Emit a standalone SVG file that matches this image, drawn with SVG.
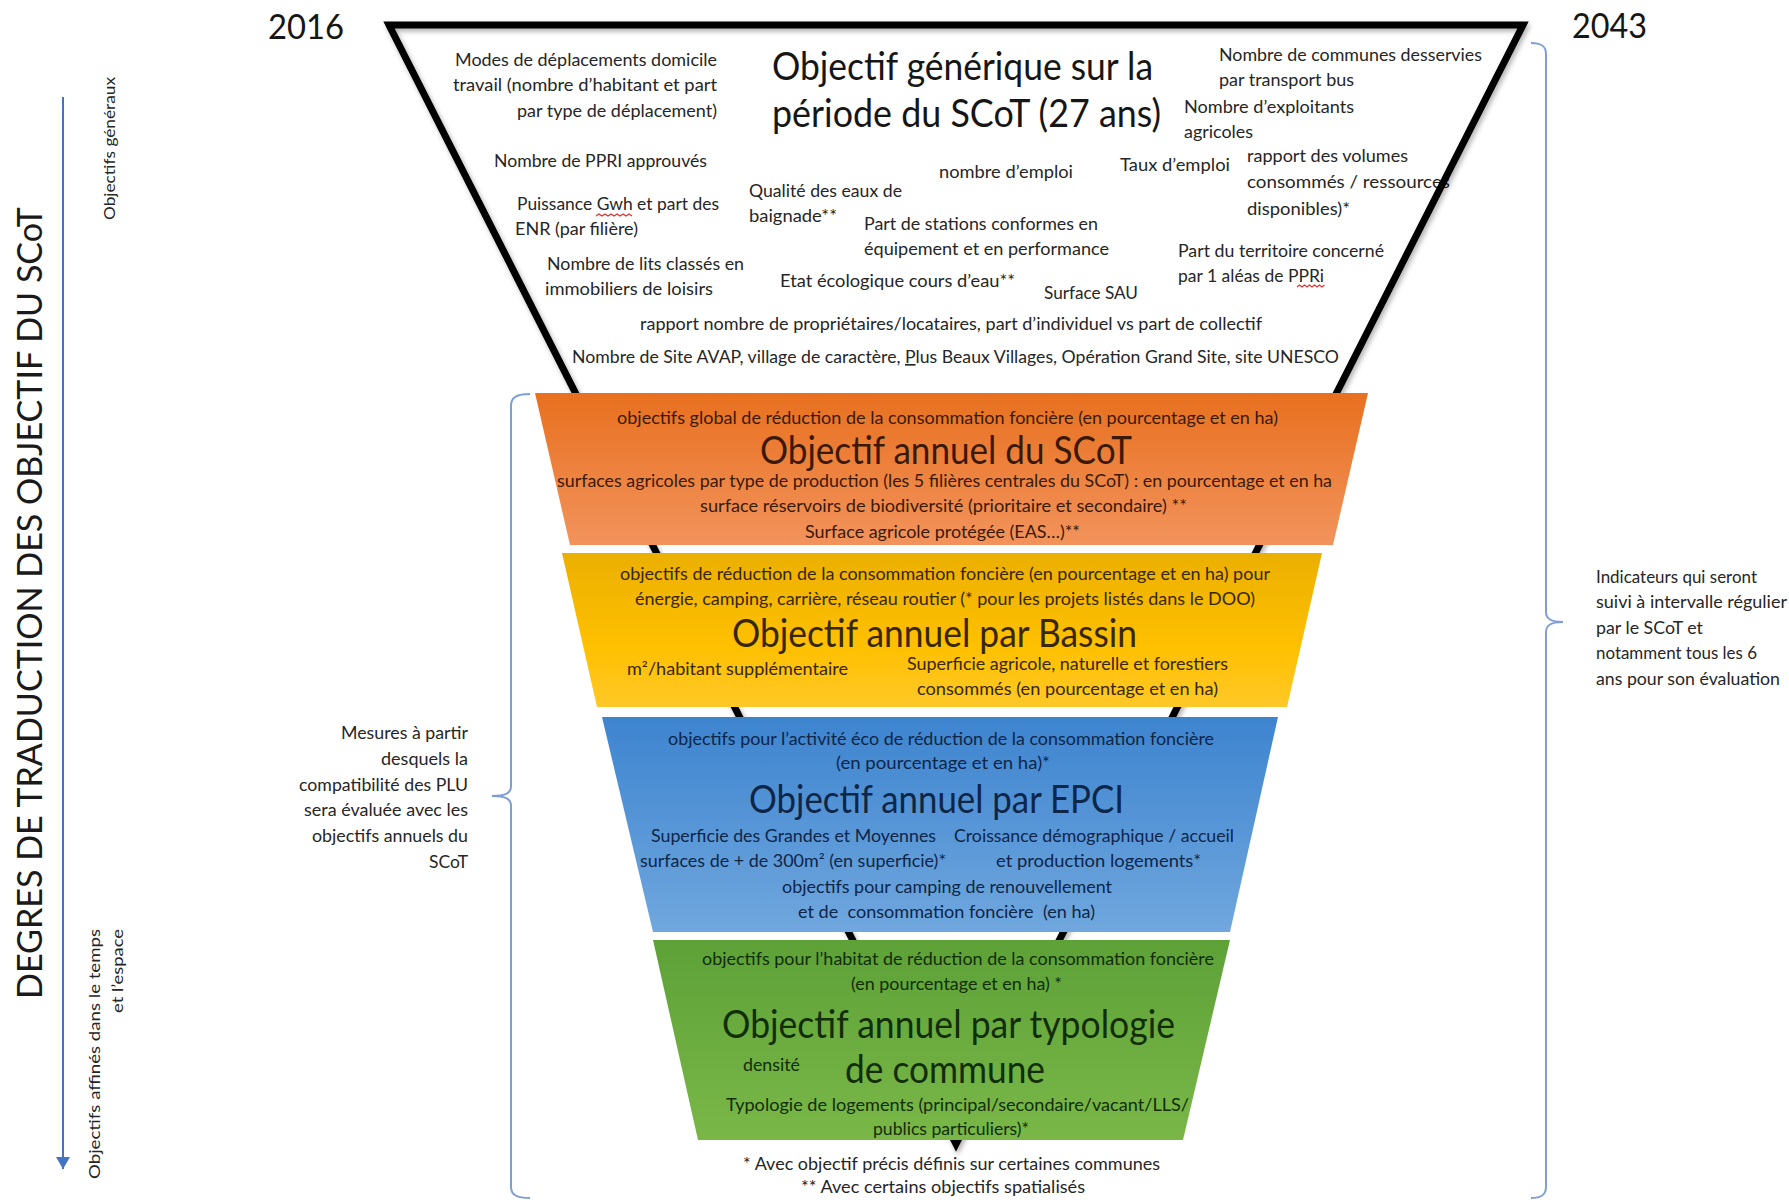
<svg xmlns="http://www.w3.org/2000/svg" width="1789" height="1203" viewBox="0 0 1789 1203">
  <style>
    text { font-family: Lato, "Open Sans", "Liberation Sans", sans-serif; }
    .s { font-size: 16.5px; fill: #262626; }
    .r { font-size: 15px; fill: #262626; }
    .t { font-size: 38px; fill: #161616; }
    .yr { font-size: 35px; fill: #161616; }
    .big { font-size: 38px; fill: #1a1a1a; }
    .or { fill: #3a1a06; }
    .ye { fill: #382700; }
    .bl { fill: #0e2648; }
    .gr { fill: #112e08; }
    .brace { fill: none; stroke: #7f9ed6; stroke-width: 2; }
    .sq { fill: none; stroke: #e03030; stroke-width: 1.2; }
    .pre { white-space: pre; }
  </style>
  <defs>
    <linearGradient id="gOrange" x1="0" y1="0" x2="0" y2="1">
      <stop offset="0" stop-color="#e8701f"/>
      <stop offset="1" stop-color="#f2935c"/>
    </linearGradient>
    <linearGradient id="gYellow" x1="0" y1="0" x2="0" y2="1">
      <stop offset="0" stop-color="#ebaf00"/>
      <stop offset="0.6" stop-color="#ffc000"/>
      <stop offset="1" stop-color="#ffc828"/>
    </linearGradient>
    <linearGradient id="gBlue" x1="0" y1="0" x2="0" y2="1">
      <stop offset="0" stop-color="#3d84cf"/>
      <stop offset="1" stop-color="#70a7de"/>
    </linearGradient>
    <linearGradient id="gGreen" x1="0" y1="0" x2="0" y2="1">
      <stop offset="0" stop-color="#5da137"/>
      <stop offset="1" stop-color="#7ab748"/>
    </linearGradient>
    <filter id="shadow" x="-5%" y="-5%" width="110%" height="110%">
      <feDropShadow dx="2" dy="3" stdDeviation="2.5" flood-color="#000" flood-opacity="0.3"/>
    </filter>
    <marker id="arrowHead" markerWidth="12" markerHeight="14" refX="12" refY="7" orient="auto" markerUnits="userSpaceOnUse" viewBox="0 0 12 14">
      <path d="M0,0 L12,7 L0,14 Z" fill="#4472c4"/>
    </marker>
  </defs>

  <rect width="1789" height="1203" fill="#ffffff"/>

  <!-- years -->
  <text class="yr" x="268" y="39" textLength="76" lengthAdjust="spacingAndGlyphs">2016</text>
  <text class="yr" x="1572" y="38" textLength="75" lengthAdjust="spacingAndGlyphs">2043</text>

  <!-- generic objective: white funnel with indicator labels -->
  <g id="funnel-generic">
    <polygon points="389,25 1523,25 956,1144" fill="#ffffff"/>
    <text class="t" x="772" y="80" textLength="381" lengthAdjust="spacingAndGlyphs">Objectif générique sur la</text>
    <text class="t" x="772" y="127" textLength="389" lengthAdjust="spacingAndGlyphs">période du SCoT (27 ans)</text>

    <text class="s" x="455" y="66" textLength="262" lengthAdjust="spacingAndGlyphs">Modes de déplacements domicile</text>
    <text class="s" x="453" y="91" textLength="264" lengthAdjust="spacingAndGlyphs">travail (nombre d’habitant et part</text>
    <text class="s" x="517" y="117" textLength="200" lengthAdjust="spacingAndGlyphs">par type de déplacement)</text>
    <text class="s" x="494" y="167" textLength="213" lengthAdjust="spacingAndGlyphs">Nombre de PPRI approuvés</text>
    <text class="s" x="517" y="210" textLength="202" lengthAdjust="spacingAndGlyphs">Puissance Gwh et part des</text>
    <path class="sq" d="M596,216 l3,-2 l3,2 l3,-2 l3,2 l3,-2 l3,2 l3,-2 l3,2 l3,-2 l3,2 l3,-2 l3,2"/>
    <text class="s" x="515" y="235" textLength="123" lengthAdjust="spacingAndGlyphs">ENR (par filière)</text>
    <text class="s" x="547" y="270" textLength="197" lengthAdjust="spacingAndGlyphs">Nombre de lits classés en</text>
    <text class="s" x="545" y="295" textLength="168" lengthAdjust="spacingAndGlyphs">immobiliers de loisirs</text>
    <text class="s" x="749" y="197" textLength="153" lengthAdjust="spacingAndGlyphs">Qualité des eaux de</text>
    <text class="s" x="749" y="222" textLength="88" lengthAdjust="spacingAndGlyphs">baignade**</text>
    <text class="s" x="939" y="178" textLength="134" lengthAdjust="spacingAndGlyphs">nombre d’emploi</text>
    <text class="s" x="864" y="230" textLength="234" lengthAdjust="spacingAndGlyphs">Part de stations conformes en</text>
    <text class="s" x="864" y="255" textLength="245" lengthAdjust="spacingAndGlyphs">équipement et en performance</text>
    <text class="s" x="780" y="287" textLength="235" lengthAdjust="spacingAndGlyphs">Etat écologique cours d’eau**</text>
    <text class="s" x="1044" y="299" textLength="94" lengthAdjust="spacingAndGlyphs">Surface SAU</text>
    <text class="s" x="1120" y="171" textLength="110" lengthAdjust="spacingAndGlyphs">Taux d’emploi</text>
    <text class="s" x="1219" y="61" textLength="263" lengthAdjust="spacingAndGlyphs">Nombre de communes desservies</text>
    <text class="s" x="1219" y="86" textLength="135" lengthAdjust="spacingAndGlyphs">par transport bus</text>
    <text class="s" x="1184" y="113" textLength="170" lengthAdjust="spacingAndGlyphs">Nombre d’exploitants</text>
    <text class="s" x="1184" y="138" textLength="69" lengthAdjust="spacingAndGlyphs">agricoles</text>
    <text class="s" x="1247" y="162" textLength="161" lengthAdjust="spacingAndGlyphs">rapport des volumes</text>
    <text class="s" x="1247" y="188" textLength="203" lengthAdjust="spacingAndGlyphs">consommés / ressources</text>
    <text class="s" x="1247" y="215" textLength="103" lengthAdjust="spacingAndGlyphs">disponibles)*</text>
    <text class="s" x="1178" y="257" textLength="206" lengthAdjust="spacingAndGlyphs">Part du territoire concerné</text>
    <text class="s" x="1178" y="282" textLength="146" lengthAdjust="spacingAndGlyphs">par 1 aléas de PPRi</text>
    <path class="sq" d="M1297,287 l2.5,-2 l2.5,2 l2.5,-2 l2.5,2 l2.5,-2 l2.5,2 l2.5,-2 l2.5,2 l2.5,-2 l2.5,2 l2.5,-2"/>
    <text class="s" x="640" y="330" textLength="622" lengthAdjust="spacingAndGlyphs">rapport nombre de propriétaires/locataires, part d’individuel vs part de collectif</text>
    <text class="s" x="572" y="363" textLength="767" lengthAdjust="spacingAndGlyphs">Nombre de Site AVAP, village de caractère, <tspan text-decoration="underline">P</tspan>lus Beaux Villages, Opération Grand Site, site UNESCO</text>

    <polygon points="389,25 1523,25 956,1144" fill="none" stroke="#000000" stroke-width="7" stroke-linejoin="miter" filter="url(#shadow)"/>
  </g>

  <!-- annual objective, whole SCoT -->
  <g id="band-scot">
    <polygon points="535,393 1368,393 1333,545 570,545" fill="url(#gOrange)"/>
    <text class="s or" x="617" y="424" textLength="661" lengthAdjust="spacingAndGlyphs">objectifs global de réduction de la consommation foncière (en pourcentage et en ha)</text>
    <text class="big or" x="760" y="464" textLength="372" lengthAdjust="spacingAndGlyphs">Objectif annuel du SCoT</text>
    <text class="s or" x="557" y="487" textLength="775" lengthAdjust="spacingAndGlyphs">surfaces agricoles par type de production (les 5 filières centrales du SCoT) : en pourcentage et en ha</text>
    <text class="s or" x="700" y="512" textLength="487" lengthAdjust="spacingAndGlyphs">surface réservoirs de biodiversité (prioritaire et secondaire) **</text>
    <text class="s or" x="805" y="538" textLength="275" lengthAdjust="spacingAndGlyphs">Surface agricole protégée (EAS…)**</text>
  </g>

  <!-- annual objective per basin -->
  <g id="band-bassin">
    <polygon points="562,553 1322,553 1287,707 597,707" fill="url(#gYellow)"/>
    <text class="s ye" x="620" y="580" textLength="650" lengthAdjust="spacingAndGlyphs">objectifs de réduction de la consommation foncière (en pourcentage et en ha) pour</text>
    <text class="s ye" x="635" y="605" textLength="620" lengthAdjust="spacingAndGlyphs">énergie, camping, carrière, réseau routier (* pour les projets listés dans le DOO)</text>
    <text class="big ye" x="732" y="647" textLength="405" lengthAdjust="spacingAndGlyphs">Objectif annuel par Bassin</text>
    <text class="s ye" x="627" y="675" textLength="221" lengthAdjust="spacingAndGlyphs">m²/habitant supplémentaire</text>
    <text class="s ye" x="907" y="670" textLength="321" lengthAdjust="spacingAndGlyphs">Superficie agricole, naturelle et forestiers</text>
    <text class="s ye" x="917" y="695" textLength="301" lengthAdjust="spacingAndGlyphs">consommés (en pourcentage et en ha)</text>
  </g>

  <!-- annual objective per EPCI -->
  <g id="band-epci">
    <polygon points="602,717 1278,717 1230,932 653,932" fill="url(#gBlue)"/>
    <text class="s bl" x="668" y="745" textLength="546" lengthAdjust="spacingAndGlyphs">objectifs pour l’activité éco de réduction de la consommation foncière</text>
    <text class="s bl" x="836" y="769" textLength="214" lengthAdjust="spacingAndGlyphs">(en pourcentage et en ha)*</text>
    <text class="big bl" x="749" y="813" textLength="375" lengthAdjust="spacingAndGlyphs">Objectif annuel par EPCI</text>
    <text class="s bl" x="651" y="842" textLength="285" lengthAdjust="spacingAndGlyphs">Superficie des Grandes et Moyennes</text>
    <text class="s bl" x="954" y="842" textLength="280" lengthAdjust="spacingAndGlyphs">Croissance démographique / accueil</text>
    <text class="s bl" x="640" y="867" textLength="306" lengthAdjust="spacingAndGlyphs">surfaces de + de 300m² (en superficie)*</text>
    <text class="s bl" x="996" y="867" textLength="205" lengthAdjust="spacingAndGlyphs">et production logements*</text>
    <text class="s bl" x="782" y="893" textLength="330" lengthAdjust="spacingAndGlyphs">objectifs pour camping de renouvellement</text>
    <text class="s bl pre" x="798" y="918" textLength="297" lengthAdjust="spacingAndGlyphs">et de  consommation foncière  (en ha)</text>
  </g>

  <!-- annual objective per commune typology -->
  <g id="band-typologie">
    <polygon points="653,940 1230,940 1183,1140 698,1140" fill="url(#gGreen)"/>
    <text class="s gr" x="702" y="965" textLength="512" lengthAdjust="spacingAndGlyphs">objectifs pour l’habitat de réduction de la consommation foncière</text>
    <text class="s gr" x="851" y="990" textLength="211" lengthAdjust="spacingAndGlyphs">(en pourcentage et en ha) *</text>
    <text class="big gr" x="722" y="1038" textLength="453" lengthAdjust="spacingAndGlyphs">Objectif annuel par typologie</text>
    <text class="s gr" x="743" y="1071" textLength="57" lengthAdjust="spacingAndGlyphs">densité</text>
    <text class="big gr" x="845" y="1083" textLength="200" lengthAdjust="spacingAndGlyphs">de commune</text>
    <text class="s gr" x="726" y="1111" textLength="463" lengthAdjust="spacingAndGlyphs">Typologie de logements (principal/secondaire/vacant/LLS/</text>
    <text class="s gr" x="873" y="1135" textLength="156" lengthAdjust="spacingAndGlyphs">publics particuliers)*</text>
  </g>

  <!-- footnotes -->
  <g id="footnotes">
    <text class="s" x="743" y="1170" textLength="417" lengthAdjust="spacingAndGlyphs">* Avec objectif précis définis sur certaines communes</text>
    <text class="s" x="801" y="1193" textLength="284" lengthAdjust="spacingAndGlyphs">** Avec certains objectifs spatialisés</text>
  </g>

  <!-- side annotations -->
  <g id="axis-label">
    <text transform="translate(42,999) rotate(-90)" x="0" y="0" style="font-size:35px;fill:#1a1a1a" textLength="792" lengthAdjust="spacingAndGlyphs">DEGRES DE TRADUCTION DES OBJECTIF DU SCoT</text>
    <text class="r" transform="translate(115,220) rotate(-90)" x="0" y="0" textLength="143" lengthAdjust="spacingAndGlyphs">Objectifs généraux</text>
    <text class="r" transform="translate(100,1179) rotate(-90)" x="0" y="0" textLength="250" lengthAdjust="spacingAndGlyphs">Objectifs affinés dans le temps</text>
    <text class="r" transform="translate(123,1013) rotate(-90)" x="0" y="0" textLength="84" lengthAdjust="spacingAndGlyphs">et l’espace</text>
  </g>

  <g id="note-plu">
    <text class="s" x="341" y="739" textLength="127" lengthAdjust="spacingAndGlyphs">Mesures à partir</text>
    <text class="s" x="381" y="765" textLength="87" lengthAdjust="spacingAndGlyphs">desquels la</text>
    <text class="s" x="299" y="791" textLength="169" lengthAdjust="spacingAndGlyphs">compatibilité des PLU</text>
    <text class="s" x="304" y="816" textLength="164" lengthAdjust="spacingAndGlyphs">sera évaluée avec les</text>
    <text class="s" x="312" y="842" textLength="156" lengthAdjust="spacingAndGlyphs">objectifs annuels du</text>
    <text class="s" x="429" y="868" textLength="39" lengthAdjust="spacingAndGlyphs">SCoT</text>
  </g>

  <g id="note-indicateurs">
    <text class="s" x="1596" y="583" textLength="161" lengthAdjust="spacingAndGlyphs">Indicateurs qui seront</text>
    <text class="s" x="1596" y="608" textLength="191" lengthAdjust="spacingAndGlyphs">suivi à intervalle régulier</text>
    <text class="s" x="1596" y="634" textLength="107" lengthAdjust="spacingAndGlyphs">par le SCoT et</text>
    <text class="s" x="1596" y="659" textLength="161" lengthAdjust="spacingAndGlyphs">notamment tous les 6</text>
    <text class="s" x="1596" y="685" textLength="184" lengthAdjust="spacingAndGlyphs">ans pour son évaluation</text>
  </g>

  <!-- connectors: braces and the refinement arrow -->
  <g id="connectors">
    <path class="brace" d="M530,394 C517,394 511,397 511,406 L511,786 C511,793 506,796 492,796 C506,796 511,799 511,806 L511,1187 C511,1195 517,1198 530,1198"/>
    <path class="brace" d="M1531,43 C1541,43 1546,46 1546,54 L1546,612 C1546,619 1551,622 1563,622 C1551,622 1546,625 1546,632 L1546,1187 C1546,1195 1541,1198 1531,1198"/>
    <line x1="63" y1="97" x2="63" y2="1169" stroke="#4472c4" stroke-width="2" marker-end="url(#arrowHead)"/>
  </g>
</svg>
